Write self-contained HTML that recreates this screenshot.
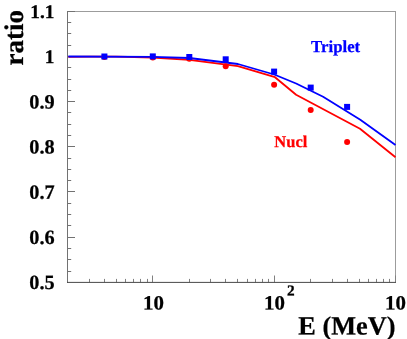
<!DOCTYPE html><html><head><meta charset="utf-8"><style>html,body{margin:0;padding:0;background:#fff;}svg{display:block;will-change:transform;}text{font-family:"Liberation Serif",serif;font-weight:bold;fill:#000;text-rendering:geometricPrecision;stroke:#000;stroke-width:0.25px;}</style></head><body>
<svg width="407" height="339" viewBox="0 0 407 339">
<rect width="407" height="339" fill="#fff"/>
<g stroke="#9c9c9c" stroke-width="1" fill="none">
<line x1="67" y1="11.5" x2="396" y2="11.5"/>
<line x1="395.5" y1="11" x2="395.5" y2="282"/>
</g>
<g stroke="#727272" stroke-width="1" fill="none">
<line x1="67.5" y1="11" x2="67.5" y2="283"/>
<line x1="68" y1="271.5" x2="71.2" y2="271.5"/>
<line x1="68" y1="259.5" x2="71.2" y2="259.5"/>
<line x1="68" y1="248.5" x2="71.2" y2="248.5"/>
<line x1="68" y1="237.5" x2="75.0" y2="237.5"/>
<line x1="68" y1="225.5" x2="71.2" y2="225.5"/>
<line x1="68" y1="214.5" x2="71.2" y2="214.5"/>
<line x1="68" y1="203.5" x2="71.2" y2="203.5"/>
<line x1="68" y1="191.5" x2="75.0" y2="191.5"/>
<line x1="68" y1="180.5" x2="71.2" y2="180.5"/>
<line x1="68" y1="169.5" x2="71.2" y2="169.5"/>
<line x1="68" y1="158.5" x2="71.2" y2="158.5"/>
<line x1="68" y1="146.5" x2="75.0" y2="146.5"/>
<line x1="68" y1="135.5" x2="71.2" y2="135.5"/>
<line x1="68" y1="124.5" x2="71.2" y2="124.5"/>
<line x1="68" y1="112.5" x2="71.2" y2="112.5"/>
<line x1="68" y1="101.5" x2="75.0" y2="101.5"/>
<line x1="68" y1="90.5" x2="71.2" y2="90.5"/>
<line x1="68" y1="79.5" x2="71.2" y2="79.5"/>
<line x1="68" y1="67.5" x2="71.2" y2="67.5"/>
<line x1="68" y1="56.5" x2="75.0" y2="56.5"/>
<line x1="68" y1="45.5" x2="71.2" y2="45.5"/>
<line x1="68" y1="33.5" x2="71.2" y2="33.5"/>
<line x1="68" y1="22.5" x2="71.2" y2="22.5"/>
<line x1="68" y1="11.5" x2="75.0" y2="11.5"/>
</g>
<g stroke="#808080" stroke-width="1" fill="none">
<line x1="89.5" y1="282.3" x2="89.5" y2="278.90"/>
<line x1="104.5" y1="282.3" x2="104.5" y2="278.90"/>
<line x1="116.5" y1="282.3" x2="116.5" y2="278.90"/>
<line x1="125.5" y1="282.3" x2="125.5" y2="278.90"/>
<line x1="133.5" y1="282.3" x2="133.5" y2="278.90"/>
<line x1="140.5" y1="282.3" x2="140.5" y2="278.90"/>
<line x1="147.5" y1="282.3" x2="147.5" y2="278.90"/>
<line x1="152.5" y1="282.3" x2="152.5" y2="275.50"/>
<line x1="189.5" y1="282.3" x2="189.5" y2="278.90"/>
<line x1="210.5" y1="282.3" x2="210.5" y2="278.90"/>
<line x1="225.5" y1="282.3" x2="225.5" y2="278.90"/>
<line x1="237.5" y1="282.3" x2="237.5" y2="278.90"/>
<line x1="247.5" y1="282.3" x2="247.5" y2="278.90"/>
<line x1="255.5" y1="282.3" x2="255.5" y2="278.90"/>
<line x1="262.5" y1="282.3" x2="262.5" y2="278.90"/>
<line x1="268.5" y1="282.3" x2="268.5" y2="278.90"/>
<line x1="274.5" y1="282.3" x2="274.5" y2="275.50"/>
<line x1="310.5" y1="282.3" x2="310.5" y2="278.90"/>
<line x1="332.5" y1="282.3" x2="332.5" y2="278.90"/>
<line x1="347.5" y1="282.3" x2="347.5" y2="278.90"/>
<line x1="359.5" y1="282.3" x2="359.5" y2="278.90"/>
<line x1="368.5" y1="282.3" x2="368.5" y2="278.90"/>
<line x1="376.5" y1="282.3" x2="376.5" y2="278.90"/>
<line x1="383.5" y1="282.3" x2="383.5" y2="278.90"/>
<line x1="389.5" y1="282.3" x2="389.5" y2="278.90"/>
<line x1="395.5" y1="282.3" x2="395.5" y2="275.50"/>
</g>
<line x1="67" y1="282.4" x2="396" y2="282.4" stroke="#484848" stroke-width="1"/>
<polyline points="68.3,56.9 90.0,56.6 116.0,56.6 152.5,57.5 189.3,59.8 237.9,66.2 275.0,77.2 296.1,94.8 360.0,128.8 395.5,157.2" fill="none" stroke="#ff0000" stroke-width="1.8" stroke-linejoin="round"/>
<polyline points="68.3,56.5 152.5,56.8 189.3,58.0 237.9,64.0 274.2,74.5 296.1,83.5 323.1,96.8 360.3,119.7 395.5,144.9" fill="none" stroke="#0000ff" stroke-width="1.8" stroke-linejoin="round"/>
<circle cx="104.4" cy="56.9" r="3" fill="#ff0000"/>
<circle cx="152.8" cy="57.4" r="3" fill="#ff0000"/>
<circle cx="189.3" cy="58.7" r="3" fill="#ff0000"/>
<circle cx="225.7" cy="66.2" r="3" fill="#ff0000"/>
<circle cx="274.1" cy="84.8" r="3" fill="#ff0000"/>
<circle cx="310.7" cy="110" r="3" fill="#ff0000"/>
<circle cx="347.1" cy="141.9" r="3" fill="#ff0000"/>
<rect x="101.4" y="53.5" width="6" height="6" fill="#0000ff"/>
<rect x="149.8" y="53.4" width="6" height="6" fill="#0000ff"/>
<rect x="186.3" y="54.0" width="6" height="6" fill="#0000ff"/>
<rect x="222.7" y="56.3" width="6" height="6" fill="#0000ff"/>
<rect x="271.1" y="68.6" width="6" height="6" fill="#0000ff"/>
<rect x="307.7" y="84.6" width="6" height="6" fill="#0000ff"/>
<rect x="344.1" y="103.9" width="6" height="6" fill="#0000ff"/>
<g>
<text transform="translate(54.4,17.9) matrix(1,0.0005,0,1,0,0)" font-size="19.3" text-anchor="end">1.1</text>
<text transform="translate(54.4,63.07) matrix(1,0.0005,0,1,0,0)" font-size="19.3" text-anchor="end">1</text>
<text transform="translate(54.6,108.43) matrix(1,0.0005,0,1,0,0)" font-size="20.3" text-anchor="end">0.9</text>
<text transform="translate(54.6,153.6) matrix(1,0.0005,0,1,0,0)" font-size="20.3" text-anchor="end">0.8</text>
<text transform="translate(54.6,198.77) matrix(1,0.0005,0,1,0,0)" font-size="20.3" text-anchor="end">0.7</text>
<text transform="translate(54.6,243.93) matrix(1,0.0005,0,1,0,0)" font-size="20.3" text-anchor="end">0.6</text>
<text transform="translate(54.6,289.1) matrix(1,0.0005,0,1,0,0)" font-size="20.3" text-anchor="end">0.5</text>
<text transform="translate(153.5,309.5) scale(1.03,1) matrix(1,0.0005,0,1,0,0)" font-size="20.3" text-anchor="middle">10</text>
<text transform="translate(264.0,309.5) scale(1.03,1) matrix(1,0.0005,0,1,0,0)" font-size="20.3" text-anchor="start">10</text>
<text transform="translate(287.0,295.6) matrix(1,0.0005,0,1,0,0)" font-size="15.3" text-anchor="start">2</text>
<text transform="translate(385.0,309.5) scale(1.03,1) matrix(1,0.0005,0,1,0,0)" font-size="20.3" text-anchor="start">10</text>
<text transform="translate(298.3,334.4) matrix(1,0.0005,0,1,0,0)" font-size="26.3" text-anchor="start">E (MeV)</text>
<text transform="translate(23,65.5) rotate(-90) matrix(1,0.0005,0,1,0,0)" font-size="27" text-anchor="start">ratio</text>
<text transform="translate(311.1,52) matrix(1,0.0005,0,1,0,0)" font-size="16.8" text-anchor="start" style="fill:#0000ff;stroke:#0000ff">Triplet</text>
<text transform="translate(274.3,147) matrix(1,0.0005,0,1,0,0)" font-size="16.5" text-anchor="start" style="fill:#ff0000;stroke:#ff0000">Nucl</text>
</g>
</svg></body></html>
